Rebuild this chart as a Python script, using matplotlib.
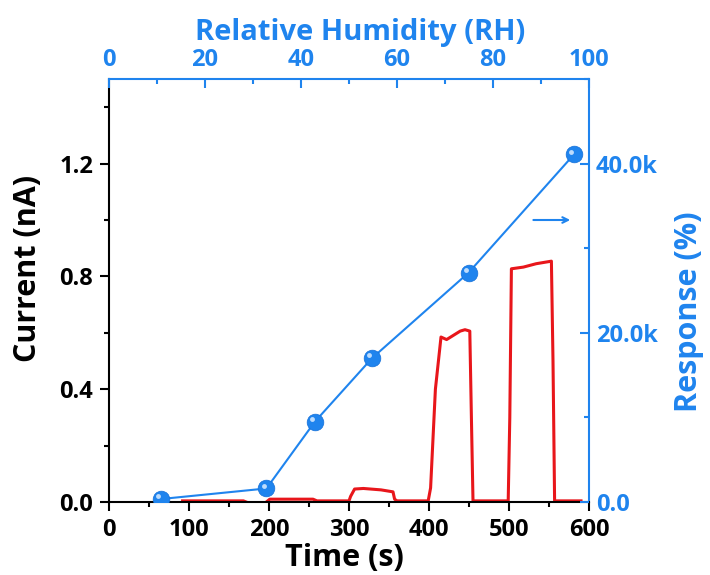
import numpy as np
import matplotlib
matplotlib.use("Agg")
import matplotlib.pyplot as plt
from matplotlib.ticker import MultipleLocator, FuncFormatter
from matplotlib.transforms import ScaledTranslation

# current trace (time in s, current in nA)
time_s = [92, 168, 175, 195, 201, 255, 260, 300, 302, 307, 318, 340, 355, 357, 360,
          399, 402, 408, 415, 422, 439, 445, 451, 453, 455, 460,
          499, 501, 503, 518, 534, 553, 555, 557, 590]
current_nA = [0.004, 0.004, -0.004, -0.004, 0.01, 0.01, 0.004, 0.004, 0.02, 0.046, 0.048, 0.043, 0.036, 0.01, 0.004,
              0.004, 0.05, 0.40, 0.585, 0.576, 0.606, 0.611, 0.606, 0.30, 0.004, 0.004,
              0.004, 0.30, 0.827, 0.833, 0.845, 0.854, 0.50, 0.004, 0.004]

# response vs relative humidity
rh = [10.8, 32.8, 42.9, 54.8, 74.9, 96.9]
response = [350, 1600, 9500, 17000, 27100, 41100]

blue = '#1f84ee'
red = '#e8161b'

plt.rcParams['font.family'] = ['Open Sans', 'DejaVu Sans']
plt.rcParams['font.weight'] = 'bold'

fig = plt.figure(figsize=(7.1, 5.75), dpi=100)
pos = [109 / 710, 73 / 575, 480 / 710, 423 / 575]
ax = fig.add_axes(pos)
ax2 = fig.add_axes(pos, frameon=False)

ax.plot(time_s, current_nA, color=red, lw=2.2)
ax.set_xlim(0, 600)
ax.set_ylim(0, 1.5)
ax.xaxis.set_major_locator(MultipleLocator(100))
ax.xaxis.set_minor_locator(MultipleLocator(50))
ax.yaxis.set_major_locator(MultipleLocator(0.4))
ax.yaxis.set_minor_locator(MultipleLocator(0.2))
ax.yaxis.set_major_formatter(FuncFormatter(lambda v, p: f'{v:.1f}'))
ax.tick_params(which='major', direction='out', length=6.5, width=1.5, labelsize=17)
ax.tick_params(which='minor', direction='out', length=3.5, width=1.5)
ax.tick_params(axis='x', pad=5)
ax.tick_params(axis='y', pad=5)
ax.set_xlabel('Time (s)', fontsize=22, fontweight='bold', va='center')
ax.set_ylabel('Current (nA)', fontsize=22, fontweight='bold', va='center')
ax.xaxis.set_label_coords(0.49, -0.132)
ax.yaxis.set_label_coords(-0.169, 0.553)
for s in ['left', 'bottom']:
    ax.spines[s].set_linewidth(1.5)
for s in ['top', 'right']:
    ax.spines[s].set_linewidth(1.5)
    ax.spines[s].set_color(blue)

ax.annotate('', xy=(580, 1.0), xytext=(527, 1.0),
            arrowprops=dict(arrowstyle='->', color=blue, lw=1.5))

ax2.plot(rh, response, color=blue, lw=1.5, zorder=2)
ax2.plot(rh, response, 'o', color=blue, ms=12, mec='#1570d8', mew=0.5, zorder=3)
shift = ax2.transData + ScaledTranslation(-2 / 72, 2 / 72, fig.dpi_scale_trans)
ax2.plot(rh, response, 'o', color='#cfe6ff', ms=3.5, mew=0, alpha=0.9,
         transform=shift, zorder=4)
ax2.set_xlim(0, 100)
ax2.set_ylim(0, 50000)
ax2.xaxis.tick_top()
ax2.xaxis.set_label_position('top')
ax2.yaxis.tick_right()
ax2.yaxis.set_label_position('right')
ax2.xaxis.set_major_locator(MultipleLocator(20))
ax2.xaxis.set_minor_locator(MultipleLocator(10))
ax2.yaxis.set_major_locator(MultipleLocator(20000))
ax2.yaxis.set_minor_locator(MultipleLocator(10000))
ax2.yaxis.set_major_formatter(FuncFormatter(lambda v, p: '0.0' if v == 0 else f'{v / 1000:.1f}k'))
ax2.tick_params(which='major', direction='in', length=6.5, width=1.5, labelsize=17,
                colors=blue, pad=5)
ax2.tick_params(which='minor', direction='in', length=3.5, width=1.5, colors=blue)
ax2.set_xlabel('Relative Humidity (RH)', fontsize=21, fontweight='bold', color=blue, va='center')
ax2.set_ylabel('Response (%)', fontsize=22, fontweight='bold', color=blue, va='center')
ax2.xaxis.set_label_coords(0.524, 1.111)
ax2.yaxis.set_label_coords(1.208, 0.449)

fig.savefig('out.png', dpi=100)
